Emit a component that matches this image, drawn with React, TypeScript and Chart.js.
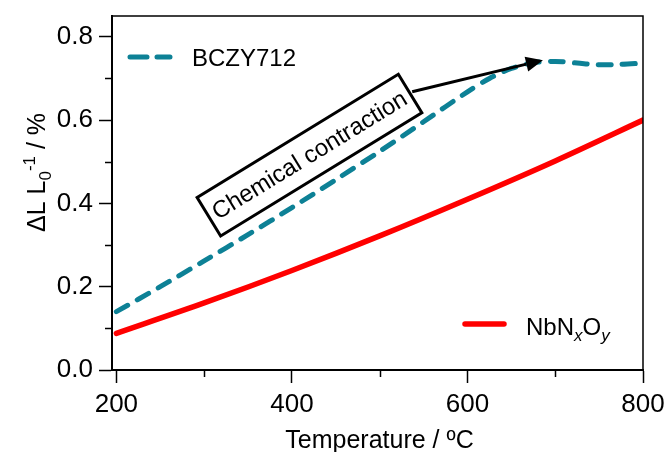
import React, { useEffect, useRef } from "react";
import { Chart, registerables } from "chart.js";

Chart.register(...registerables);

// ---- data ----
const bczyTemps = [200, 250, 300, 350, 400, 450, 500, 550, 600, 625, 650, 675, 700, 725, 750, 775, 800];
const bczyValues = [0.14, 0.2, 0.262, 0.325, 0.39, 0.457, 0.525, 0.596, 0.668, 0.7, 0.724, 0.738, 0.741, 0.737, 0.733, 0.734, 0.737];
const nbTemps = [200, 300, 400, 500, 600, 700, 800];
const nbValues = [0.088, 0.161, 0.239, 0.322, 0.41, 0.502, 0.6];

const xMajorTicks = [200, 400, 600, 800];
const xMinorTicks = [300, 500, 700];
const yMajorTicks = [0, 0.2, 0.4, 0.6, 0.8];
const yMinorTicks = [0.1, 0.3, 0.5, 0.7];

const seriesNames = ["BCZY712", "NbNxOy"];
const annotationText = "Chemical contraction";
const annotationBox = { x: 420, y: 0.516 };
const arrowFrom = { x: 537, y: 0.668 };
const arrowTo = { x: 686, y: 0.744 };

const TEAL = "#0d8196";
const RED = "#ff0000";
const FONT = '"Liberation Sans", Arial, Helvetica, sans-serif';

const zeroPad = (s: any) => {
  s.paddingLeft = 0;
  s.paddingRight = 0;
  s.paddingTop = 0;
  s.paddingBottom = 0;
};

const decorPlugin = {
  id: "decor",
  afterDraw(chart: any) {
    const { ctx, chartArea: a, scales } = chart;
    const x = scales.x;
    const y = scales.y;
    ctx.save();

    // frame (top + right)
    ctx.strokeStyle = "#000";
    ctx.lineWidth = 1.5;
    ctx.beginPath();
    ctx.moveTo(a.left, a.top);
    ctx.lineTo(a.right, a.top);
    ctx.lineTo(a.right, a.bottom + 1);
    ctx.stroke();

    // minor ticks
    ctx.lineWidth = 1.5;
    xMinorTicks.forEach((v) => {
      const px = Math.round(x.getPixelForValue(v)) + 0.5;
      ctx.beginPath();
      ctx.moveTo(px, a.bottom);
      ctx.lineTo(px, a.bottom + 7);
      ctx.stroke();
    });
    yMinorTicks.forEach((v) => {
      const py = Math.round(y.getPixelForValue(v)) + 0.5;
      ctx.beginPath();
      ctx.moveTo(a.left, py);
      ctx.lineTo(a.left - 7, py);
      ctx.stroke();
    });

    // legend: BCZY712
    ctx.lineCap = "round";
    ctx.lineWidth = 5;
    ctx.strokeStyle = TEAL;
    ctx.setLineDash([17, 10]);
    ctx.beginPath();
    ctx.moveTo(a.left + 18, a.top + 41);
    ctx.lineTo(a.left + 58, a.top + 41);
    ctx.stroke();
    ctx.setLineDash([]);
    ctx.fillStyle = "#000";
    ctx.font = `24px ${FONT}`;
    ctx.textAlign = "left";
    ctx.textBaseline = "alphabetic";
    ctx.fillText(seriesNames[0], a.left + 80, a.top + 50);

    // legend: NbNxOy
    ctx.strokeStyle = RED;
    ctx.lineWidth = 5.5;
    ctx.beginPath();
    ctx.moveTo(465, 324);
    ctx.lineTo(504, 324);
    ctx.stroke();
    let tx = 526;
    const base = 335;
    const seg = (t: string, font: string, dy: number) => {
      ctx.font = font;
      ctx.fillText(t, tx, base + dy);
      tx += ctx.measureText(t).width;
    };
    seg("NbN", `24px ${FONT}`, 0);
    seg("x", `italic 17px ${FONT}`, 6);
    seg("O", `24px ${FONT}`, 0);
    seg("y", `italic 17px ${FONT}`, 6);

    // annotation arrow
    const fx = x.getPixelForValue(arrowFrom.x);
    const fy = y.getPixelForValue(arrowFrom.y);
    const ex = x.getPixelForValue(arrowTo.x);
    const ey = y.getPixelForValue(arrowTo.y);
    const ang = Math.atan2(ey - fy, ex - fx);
    const headLen = 17;
    const headW = 7.5;
    ctx.strokeStyle = "#000";
    ctx.lineWidth = 3;
    ctx.lineCap = "butt";
    ctx.beginPath();
    ctx.moveTo(fx, fy);
    ctx.lineTo(ex - headLen * Math.cos(ang), ey - headLen * Math.sin(ang));
    ctx.stroke();
    ctx.fillStyle = "#000";
    ctx.beginPath();
    ctx.moveTo(ex, ey);
    ctx.lineTo(
      ex - headLen * Math.cos(ang) + headW * Math.sin(ang),
      ey - headLen * Math.sin(ang) - headW * Math.cos(ang)
    );
    ctx.lineTo(
      ex - headLen * Math.cos(ang) - headW * Math.sin(ang),
      ey - headLen * Math.sin(ang) + headW * Math.cos(ang)
    );
    ctx.closePath();
    ctx.fill();

    // annotation box
    const cx = x.getPixelForValue(annotationBox.x);
    const cy = y.getPixelForValue(annotationBox.y);
    ctx.save();
    ctx.translate(cx, cy);
    ctx.rotate((-31.5 * Math.PI) / 180);
    ctx.fillStyle = "#fff";
    ctx.fillRect(-118, -22.5, 236, 45);
    ctx.strokeStyle = "#000";
    ctx.lineWidth = 3;
    ctx.strokeRect(-118, -22.5, 236, 45);
    ctx.fillStyle = "#000";
    ctx.font = `24px ${FONT}`;
    ctx.textAlign = "center";
    ctx.textBaseline = "middle";
    ctx.fillText(annotationText, 0, 1);
    ctx.restore();

    // x title
    ctx.fillStyle = "#000";
    ctx.font = `25px ${FONT}`;
    ctx.textAlign = "center";
    ctx.textBaseline = "alphabetic";
    ctx.fillText("Temperature / ºC", (a.left + a.right) / 2 + 2, 448);

    // y title
    ctx.save();
    ctx.translate(45, 232);
    ctx.rotate(-Math.PI / 2);
    ctx.textAlign = "left";
    let yx = 0;
    const yseg = (t: string, font: string, dy: number) => {
      ctx.font = font;
      ctx.fillText(t, yx, dy);
      yx += ctx.measureText(t).width;
    };
    yseg("ΔL L", `25px ${FONT}`, 0);
    yseg("0", `17px ${FONT}`, 6);
    yseg("-1", `17px ${FONT}`, -10);
    yseg(" / %", `25px ${FONT}`, 0);
    ctx.restore();

    ctx.restore();
  },
};

export default function App() {
  const canvasRef = useRef<HTMLCanvasElement | null>(null);

  useEffect(() => {
    if (!canvasRef.current) return;
    const chart = new Chart(canvasRef.current, {
      type: "line",
      data: {
        datasets: [
          {
            label: seriesNames[0],
            data: bczyTemps.map((t, i) => ({ x: t, y: bczyValues[i] })),
            borderColor: TEAL,
            borderWidth: 5,
            borderDash: [13, 11],
            borderCapStyle: "round",
            pointRadius: 0,
            tension: 0.3,
            fill: false,
          },
          {
            label: seriesNames[1],
            data: nbTemps.map((t, i) => ({ x: t, y: nbValues[i] })),
            borderColor: RED,
            borderWidth: 5.5,
            borderCapStyle: "round",
            pointRadius: 0,
            tension: 0.3,
            fill: false,
          },
        ],
      },
      options: {
        responsive: false,
        animation: false,
        layout: { padding: { top: 16, right: 24, left: 0, bottom: 0 } },
        plugins: { legend: { display: false }, tooltip: { enabled: false } },
        scales: {
          x: {
            type: "linear",
            min: 195,
            max: 800,
            afterFit: (s: any) => {
              s.height = 82;
              zeroPad(s);
            },
            afterBuildTicks: (s: any) => {
              s.ticks = xMajorTicks.map((v) => ({ value: v }));
            },
            grid: {
              display: true,
              drawOnChartArea: false,
              drawTicks: true,
              tickLength: 13,
              tickColor: "#000",
              tickWidth: 1.5,
            },
            border: { display: true, color: "#000", width: 2 },
            ticks: {
              color: "#000",
              font: { family: FONT, size: 26 },
              padding: 6,
              maxRotation: 0,
              autoSkip: false,
              callback: (v: any) => String(v),
            },
          },
          y: {
            type: "linear",
            min: 0,
            max: 0.85,
            afterFit: (s: any) => {
              s.width = 112;
              zeroPad(s);
            },
            afterBuildTicks: (s: any) => {
              s.ticks = yMajorTicks.map((v) => ({ value: v }));
            },
            grid: {
              display: true,
              drawOnChartArea: false,
              drawTicks: true,
              tickLength: 13,
              tickColor: "#000",
              tickWidth: 1.5,
            },
            border: { display: true, color: "#000", width: 2 },
            ticks: {
              color: "#000",
              font: { family: FONT, size: 26 },
              padding: 6,
              autoSkip: false,
              callback: (v: any) => Number(v).toFixed(1),
            },
          },
        },
      },
      plugins: [decorPlugin],
    } as any);
    return () => chart.destroy();
  }, []);

  return (
    <div style={{ position: "absolute", left: 0, top: 0, width: 667, height: 452, background: "#fff" }}>
      <canvas ref={canvasRef} width={667} height={452} style={{ display: "block", width: 667, height: 452 }} />
    </div>
  );
}
